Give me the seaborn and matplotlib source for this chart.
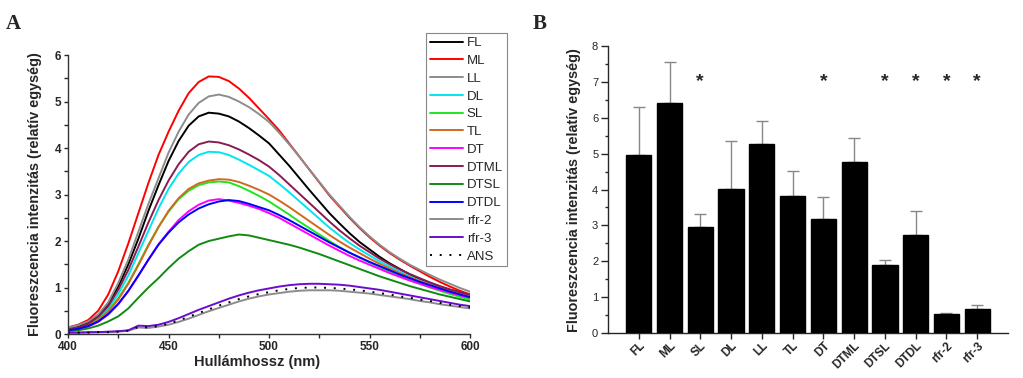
import numpy as np
import pandas as pd
import matplotlib
matplotlib.use("Agg")
import matplotlib.pyplot as plt
import seaborn as sns

# ---------------------------------------------------------------
# Adatok
# ---------------------------------------------------------------
wavelength = list(range(400, 601, 5))

FL = [0.10, 0.15, 0.24, 0.40, 0.65, 1.02, 1.50, 2.05, 2.65, 3.20, 3.72, 4.15, 4.48, 4.68, 4.76, 4.74,
      4.68, 4.57, 4.43, 4.27, 4.10, 3.86, 3.62, 3.36, 3.10, 2.85, 2.60, 2.38, 2.17, 1.98, 1.82, 1.66,
      1.52, 1.40, 1.28, 1.18, 1.10, 1.02, 0.95, 0.90, 0.85]
ML = [0.14, 0.20, 0.30, 0.50, 0.85, 1.35, 1.95, 2.60, 3.25, 3.85, 4.35, 4.80, 5.18, 5.42, 5.54, 5.53,
      5.44, 5.28, 5.08, 4.85, 4.62, 4.38, 4.10, 3.82, 3.54, 3.26, 2.98, 2.74, 2.50, 2.28, 2.08, 1.90,
      1.74, 1.60, 1.47, 1.35, 1.23, 1.12, 1.02, 0.93, 0.85]
LL = [0.14, 0.19, 0.27, 0.42, 0.68, 1.10, 1.60, 2.20, 2.80, 3.35, 3.90, 4.35, 4.72, 4.97, 5.11, 5.15,
      5.10, 5.00, 4.88, 4.73, 4.56, 4.33, 4.08, 3.82, 3.54, 3.27, 3.00, 2.76, 2.52, 2.30, 2.10, 1.92,
      1.76, 1.62, 1.49, 1.38, 1.27, 1.17, 1.08, 0.99, 0.91]
DL = [0.10, 0.13, 0.20, 0.34, 0.55, 0.86, 1.26, 1.74, 2.22, 2.70, 3.12, 3.45, 3.70, 3.85, 3.92, 3.91,
      3.85, 3.75, 3.64, 3.52, 3.40, 3.23, 3.05, 2.86, 2.67, 2.48, 2.29, 2.12, 1.96, 1.82, 1.69, 1.56,
      1.45, 1.34, 1.24, 1.15, 1.07, 0.99, 0.92, 0.86, 0.80]
SL = [0.09, 0.12, 0.19, 0.31, 0.50, 0.77, 1.10, 1.50, 1.92, 2.30, 2.63, 2.90, 3.08, 3.20, 3.26, 3.28,
      3.26, 3.18, 3.08, 2.97, 2.85, 2.71, 2.57, 2.42, 2.28, 2.14, 2.00, 1.87, 1.75, 1.64, 1.54, 1.44,
      1.34, 1.25, 1.16, 1.08, 1.00, 0.93, 0.86, 0.80, 0.74]
TL = [0.09, 0.12, 0.18, 0.30, 0.48, 0.74, 1.08, 1.48, 1.90, 2.30, 2.65, 2.92, 3.12, 3.24, 3.30, 3.33,
      3.32, 3.27, 3.19, 3.10, 3.00, 2.87, 2.73, 2.58, 2.43, 2.28, 2.13, 1.99, 1.86, 1.74, 1.62, 1.51,
      1.41, 1.31, 1.22, 1.14, 1.06, 0.99, 0.92, 0.86, 0.80]
DT = [0.08, 0.11, 0.16, 0.26, 0.42, 0.64, 0.92, 1.25, 1.60, 1.93, 2.20, 2.45, 2.64, 2.78, 2.87, 2.90,
      2.87, 2.82, 2.76, 2.69, 2.60, 2.50, 2.38, 2.26, 2.14, 2.02, 1.90, 1.79, 1.68, 1.58, 1.49, 1.40,
      1.31, 1.23, 1.15, 1.08, 1.01, 0.95, 0.89, 0.83, 0.78]
DTML = [0.10, 0.14, 0.22, 0.37, 0.60, 0.95, 1.38, 1.88, 2.40, 2.88, 3.30, 3.65, 3.92, 4.08, 4.14, 4.12,
        4.06, 3.97, 3.86, 3.74, 3.60, 3.42, 3.22, 3.02, 2.82, 2.62, 2.42, 2.23, 2.06, 1.90, 1.76, 1.62,
        1.50, 1.39, 1.29, 1.20, 1.11, 1.03, 0.96, 0.90, 0.84]
DTSL = [0.06, 0.08, 0.12, 0.18, 0.27, 0.38, 0.55, 0.78, 1.00, 1.20, 1.42, 1.62, 1.78, 1.92, 2.00, 2.05,
        2.10, 2.14, 2.12, 2.07, 2.02, 1.97, 1.92, 1.86, 1.79, 1.72, 1.64, 1.56, 1.48, 1.40, 1.32, 1.24,
        1.17, 1.10, 1.03, 0.97, 0.91, 0.85, 0.80, 0.75, 0.70]
DTDL = [0.08, 0.11, 0.17, 0.27, 0.43, 0.65, 0.93, 1.26, 1.60, 1.92, 2.18, 2.40, 2.57, 2.70, 2.79, 2.85,
        2.88, 2.86, 2.80, 2.73, 2.66, 2.56, 2.45, 2.33, 2.21, 2.09, 1.97, 1.86, 1.75, 1.65, 1.55, 1.46,
        1.37, 1.28, 1.20, 1.12, 1.05, 0.98, 0.91, 0.85, 0.79]
rfr2 = [0.03, 0.03, 0.03, 0.04, 0.04, 0.05, 0.07, 0.14, 0.13, 0.16, 0.20, 0.26, 0.33, 0.41, 0.49, 0.56,
        0.63, 0.70, 0.76, 0.81, 0.85, 0.88, 0.91, 0.93, 0.94, 0.94, 0.94, 0.93, 0.91, 0.89, 0.87, 0.84,
        0.81, 0.78, 0.75, 0.71, 0.68, 0.64, 0.61, 0.58, 0.55]
rfr3 = [0.03, 0.03, 0.04, 0.04, 0.05, 0.06, 0.08, 0.18, 0.17, 0.20, 0.26, 0.34, 0.43, 0.52, 0.60, 0.68,
        0.76, 0.83, 0.89, 0.94, 0.98, 1.02, 1.05, 1.07, 1.08, 1.08, 1.07, 1.06, 1.04, 1.01, 0.98, 0.95,
        0.91, 0.87, 0.83, 0.79, 0.75, 0.71, 0.67, 0.63, 0.60]
ANS = [0.03, 0.03, 0.03, 0.04, 0.04, 0.05, 0.07, 0.15, 0.14, 0.17, 0.22, 0.29, 0.37, 0.45, 0.53, 0.61,
       0.68, 0.75, 0.81, 0.86, 0.90, 0.94, 0.97, 0.99, 1.00, 1.00, 0.99, 0.98, 0.96, 0.94, 0.91, 0.88,
       0.85, 0.81, 0.78, 0.74, 0.71, 0.67, 0.63, 0.60, 0.57]

series_names = ['FL', 'ML', 'LL', 'DL', 'SL', 'TL', 'DT', 'DTML', 'DTSL', 'DTDL', 'rfr-2', 'rfr-3', 'ANS']
series_values = [FL, ML, LL, DL, SL, TL, DT, DTML, DTSL, DTDL, rfr2, rfr3, ANS]
series_colors = ['#000000', '#ff0000', '#8c8c8c', '#00e6f0', '#1ee61e', '#d2691e', '#ff00ff',
                 '#8b1a50', '#118a11', '#0000ff', '#8c8c8c', '#6a0dd0', '#000000']

# B panel
bar_labels = ['FL', 'ML', 'SL', 'DL', 'LL', 'TL', 'DT', 'DTML', 'DTSL', 'DTDL', 'rfr-2', 'rfr-3']
bar_means = [4.95, 6.40, 2.95, 4.01, 5.26, 3.82, 3.17, 4.76, 1.90, 2.72, 0.52, 0.68]
bar_upper = [6.30, 7.57, 3.33, 5.35, 5.90, 4.53, 3.78, 5.45, 2.03, 3.40, 0.55, 0.78]
significant = ['SL', 'DT', 'DTSL', 'DTDL', 'rfr-2', 'rfr-3']
star_level = 7.0

# ---------------------------------------------------------------
# Stílus
# ---------------------------------------------------------------
sns.set_theme(style="white")
plt.rcParams['font.family'] = ['Liberation Sans', 'DejaVu Sans']
plt.rcParams.update({'axes.linewidth': 1.0, 'xtick.direction': 'out', 'ytick.direction': 'out'})

fig = plt.figure(figsize=(10.23, 3.78), dpi=100)
axA = fig.add_axes([0.0665, 0.1164, 0.393, 0.738])
axB = fig.add_axes([0.5943, 0.119, 0.391, 0.759])

# --- A: spektrumok ---
df = pd.concat([pd.DataFrame({'wl': wavelength, 'val': v, 'minta': n})
                for n, v in zip(series_names, series_values)], ignore_index=True)
dashes = {n: '' for n in series_names}
dashes['ANS'] = (1, 4)
sns.lineplot(data=df, x='wl', y='val', hue='minta', style='minta', hue_order=series_names,
             style_order=series_names, palette=dict(zip(series_names, series_colors)),
             dashes=dashes, linewidth=1.4, ax=axA)
axA.set_xlim(400, 600)
axA.set_ylim(0, 6)
axA.set_xticks([400, 450, 500, 550, 600])
axA.set_xticks(np.arange(400, 601, 25), minor=True)
axA.set_yticks(range(0, 7))
axA.set_yticks(np.arange(0, 6.01, 0.5), minor=True)
axA.tick_params(which='both', direction='out', length=3, width=1, left=True, bottom=True,
                labelsize=8.5, pad=2)
for lab in axA.get_xticklabels() + axA.get_yticklabels():
    lab.set_fontweight('bold')
axA.set_xlabel('Hullámhossz (nm)', fontsize=10.5, fontweight='bold', labelpad=2)
axA.xaxis.set_label_coords(0.47, -0.075)
axA.set_ylabel('Fluoreszcencia intenzitás (relatív egység)', fontsize=10.4, fontweight='bold', labelpad=9)
sns.despine(ax=axA)
for s in ['left', 'bottom']:
    axA.spines[s].set_color('#333333')

leg = axA.legend(loc='upper left', bbox_to_anchor=(0.89, 1.079), borderaxespad=0, fontsize=9.5,
                 handlelength=2.5, labelspacing=0.42, handletextpad=0.3, borderpad=0.3,
                 fancybox=False, edgecolor='#888888', framealpha=1)
leg.get_frame().set_linewidth(0.8)

# --- B: oszlopdiagram ---
dfb = pd.DataFrame({'minta': bar_labels, 'atlag': bar_means, 'felso': bar_upper})
sns.barplot(data=dfb, x='minta', y='atlag', order=bar_labels, color='black', width=0.82,
            edgecolor='black', ax=axB)
for p in axB.patches:
    p.set_zorder(3)
axB.errorbar(np.arange(len(bar_labels)), dfb['atlag'],
             yerr=[np.zeros(len(bar_labels)), dfb['felso'] - dfb['atlag']],
             fmt='none', ecolor='#888888', elinewidth=1, capsize=4, capthick=1, zorder=1)
for i, lab in enumerate(bar_labels):
    if lab in significant:
        axB.text(i, star_level, '*', ha='center', va='center', fontsize=14, fontweight='bold')
axB.set_xlim(-1, len(bar_labels))
axB.set_ylim(0, 8)
axB.set_yticks(range(0, 9))
axB.set_yticks(np.arange(0.5, 8, 1.0), minor=True)
axB.tick_params(axis='y', which='major', direction='out', length=5, width=1, left=True,
                labelsize=8, pad=2)
axB.tick_params(axis='y', which='minor', direction='out', length=2.5, width=1, left=True)
axB.tick_params(axis='x', direction='out', length=4, width=1, bottom=True, labelsize=8.5, pad=1)
axB.set_xticks(range(len(bar_labels)))
axB.set_xticklabels(bar_labels, rotation=45, ha='right', rotation_mode='anchor', fontweight='bold')
axB.set_xlabel('')
axB.set_ylabel('Fluoreszcencia intenzitás (relatív egység)', fontsize=10.4, fontweight='bold', labelpad=8)
sns.despine(ax=axB)

fig.text(0.006, 0.922, 'A', fontsize=15, fontweight='bold', family='Liberation Serif')
fig.text(0.521, 0.922, 'B', fontsize=15, fontweight='bold', family='Liberation Serif')

fig.savefig('out.png', dpi=100)
